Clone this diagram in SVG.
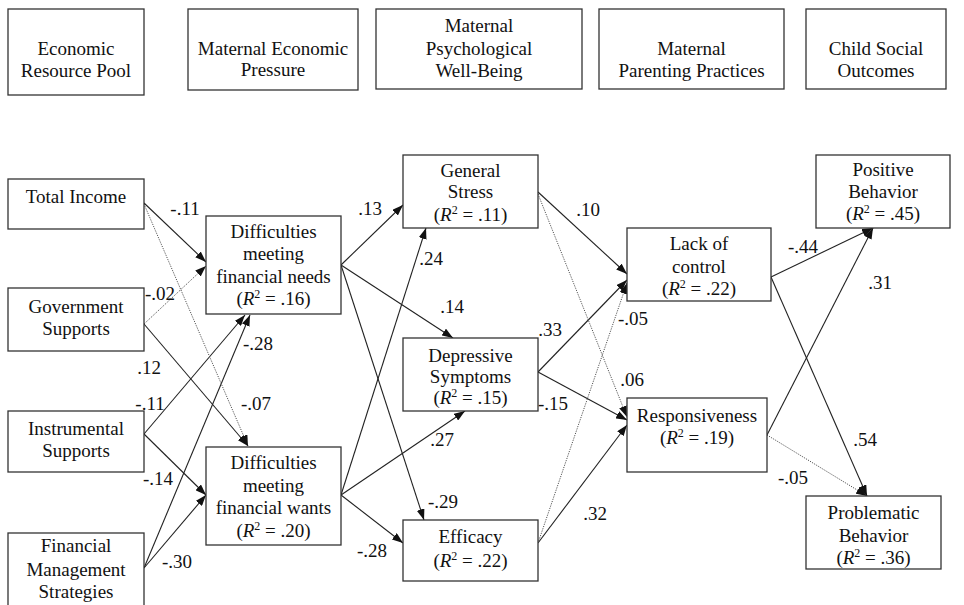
<svg xmlns="http://www.w3.org/2000/svg" width="964" height="605" viewBox="0 0 964 605" font-family="Liberation Serif">
<style>
.box{fill:#fff;stroke:#333;stroke-width:1.3}
text{font-family:'Liberation Serif','Times New Roman',serif;font-size:19px;fill:#111;text-anchor:middle}
.s{stroke:#222;stroke-width:1.1;fill:none;marker-end:url(#ah)}
.d{stroke:#555;stroke-width:1;stroke-dasharray:1.2,1.2;fill:none;marker-end:url(#ah)}
.i{font-style:italic}
.sup{font-size:12px}
</style>
<defs>
<marker id="ah" markerUnits="userSpaceOnUse" markerWidth="11" markerHeight="8" refX="11" refY="4" orient="auto">
<path d="M0,0 L11,4 L0,8 z" fill="#111"/>
</marker>
</defs>
<rect width="964" height="605" fill="#fff"/>

<g id="h1"><rect class="box" x="8" y="9" width="136" height="86"/><text x="76" y="54.5">Economic</text><text x="76" y="76.5">Resource Pool</text></g>
<g id="h2"><rect class="box" x="188" y="9" width="170" height="81"/><text x="273" y="54.5">Maternal Economic</text><text x="273" y="75.5">Pressure</text></g>
<g id="h3"><rect class="box" x="376" y="9" width="206" height="80"/><text x="479" y="32">Maternal</text><text x="479" y="54.5">Psychological</text><text x="479" y="77">Well-Being</text></g>
<g id="h4"><rect class="box" x="599" y="9" width="185" height="80"/><text x="691.5" y="54.5">Maternal</text><text x="691.5" y="77">Parenting Practices</text></g>
<g id="h5"><rect class="box" x="806" y="9" width="140" height="80"/><text x="876" y="54.5">Child Social</text><text x="876" y="77">Outcomes</text></g>

<g id="connectors">
<line class="s" x1="144" y1="203" x2="206" y2="262"/>
<line class="s" x1="144" y1="324" x2="248" y2="446"/>
<line class="s" x1="144" y1="434" x2="245" y2="315"/>
<line class="s" x1="144" y1="434" x2="206" y2="495"/>
<line class="s" x1="144" y1="568" x2="250" y2="315"/>
<line class="s" x1="144" y1="568" x2="206" y2="495"/>
<line class="s" x1="341" y1="265" x2="403" y2="205"/>
<line class="s" x1="341" y1="265" x2="453" y2="338"/>
<line class="s" x1="341" y1="265" x2="424" y2="520"/>
<line class="s" x1="341" y1="495" x2="426" y2="228"/>
<line class="s" x1="341" y1="495" x2="465" y2="411"/>
<line class="s" x1="341" y1="495" x2="403" y2="543"/>
<line class="s" x1="538" y1="192" x2="627" y2="274"/>
<line class="s" x1="538" y1="372" x2="627" y2="280"/>
<line class="s" x1="538" y1="372" x2="627" y2="420"/>
<line class="s" x1="538" y1="543" x2="627" y2="425"/>
<line class="s" x1="771" y1="277" x2="873" y2="228"/>
<line class="s" x1="771" y1="277" x2="867" y2="496"/>
<line class="s" x1="767" y1="435" x2="873" y2="228"/>
<line class="d" x1="144" y1="204" x2="248" y2="446"/>
<line class="d" x1="144" y1="324" x2="206" y2="266"/>
<line class="d" x1="538" y1="194" x2="627" y2="417"/>
<line class="d" x1="538" y1="543" x2="627" y2="283"/>
<line class="d" x1="767" y1="435" x2="867" y2="496"/>
</g>

<g id="labels">
<text x="185" y="215">-.11</text>
<text x="160" y="300">-.02</text>
<text x="149" y="374">.12</text>
<text x="150" y="410">-.11</text>
<text x="256" y="410">-.07</text>
<text x="258" y="350">-.28</text>
<text x="158" y="485">-.14</text>
<text x="177" y="568">-.30</text>
<text x="370" y="215">.13</text>
<text x="431" y="265">.24</text>
<text x="452" y="313">.14</text>
<text x="550" y="336">.33</text>
<text x="553" y="410">-.15</text>
<text x="442" y="446">.27</text>
<text x="443" y="508">-.29</text>
<text x="372" y="557">-.28</text>
<text x="588" y="216">.10</text>
<text x="633" y="325">-.05</text>
<text x="632" y="386">.06</text>
<text x="595" y="520">.32</text>
<text x="803" y="253">-.44</text>
<text x="880" y="289">.31</text>
<text x="865" y="446">.54</text>
<text x="793" y="484">-.05</text>
</g>

<g id="ti"><rect class="box" x="8" y="179" width="136" height="50"/><text x="76" y="203">Total Income</text></g>
<g id="gs"><rect class="box" x="8" y="288" width="136" height="63"/><text x="76" y="312.5">Government</text><text x="76" y="334.5">Supports</text></g>
<g id="is"><rect class="box" x="8" y="411" width="136" height="61"/><text x="76" y="435">Instrumental</text><text x="76" y="457">Supports</text></g>
<g id="fms"><rect class="box" x="8" y="533" width="136" height="75"/><text x="76" y="552">Financial</text><text x="76" y="575.5">Management</text><text x="76" y="598">Strategies</text></g>

<g id="dmfn"><rect class="box" x="206" y="216" width="135" height="98"/><text x="273.5" y="238">Difficulties</text><text x="273.5" y="260">meeting</text><text x="273.5" y="283">financial needs</text><text x="273.5" y="304.5">(<tspan class="i">R</tspan><tspan class="sup" dy="-7">2</tspan><tspan dy="7"> = .16)</tspan></text></g>
<g id="dmfw"><rect class="box" x="206" y="447" width="135" height="98"/><text x="273.5" y="469">Difficulties</text><text x="273.5" y="491.5">meeting</text><text x="273.5" y="514">financial wants</text><text x="273.5" y="536.5">(<tspan class="i">R</tspan><tspan class="sup" dy="-7">2</tspan><tspan dy="7"> = .20)</tspan></text></g>

<g id="gstress"><rect class="box" x="403" y="155" width="135" height="73"/><text x="470.5" y="176.5">General</text><text x="470.5" y="198">Stress</text><text x="470.5" y="220.5">(<tspan class="i">R</tspan><tspan class="sup" dy="-7">2</tspan><tspan dy="7"> = .11)</tspan></text></g>
<g id="dep"><rect class="box" x="403" y="338" width="135" height="73"/><text x="470.5" y="361.5">Depressive</text><text x="470.5" y="383">Symptoms</text><text x="470.5" y="403.5">(<tspan class="i">R</tspan><tspan class="sup" dy="-7">2</tspan><tspan dy="7"> = .15)</tspan></text></g>
<g id="eff"><rect class="box" x="403" y="520" width="135" height="61"/><text x="470.5" y="543">Efficacy</text><text x="470.5" y="566.5">(<tspan class="i">R</tspan><tspan class="sup" dy="-7">2</tspan><tspan dy="7"> = .22)</tspan></text></g>

<g id="loc"><rect class="box" x="627" y="228" width="144" height="73"/><text x="699" y="249.5">Lack of</text><text x="699" y="272.5">control</text><text x="699" y="294.5">(<tspan class="i">R</tspan><tspan class="sup" dy="-7">2</tspan><tspan dy="7"> = .22)</tspan></text></g>
<g id="resp"><rect class="box" x="627" y="398" width="140" height="74"/><text x="697" y="421.5">Responsiveness</text><text x="697" y="443.5">(<tspan class="i">R</tspan><tspan class="sup" dy="-7">2</tspan><tspan dy="7"> = .19)</tspan></text></g>

<g id="pos"><rect class="box" x="816" y="155" width="134" height="73"/><text x="883" y="176">Positive</text><text x="883" y="198">Behavior</text><text x="883" y="219.5">(<tspan class="i">R</tspan><tspan class="sup" dy="-7">2</tspan><tspan dy="7"> = .45)</tspan></text></g>
<g id="prob"><rect class="box" x="806" y="496" width="135" height="73"/><text x="873.5" y="519">Problematic</text><text x="873.5" y="541.5">Behavior</text><text x="873.5" y="563.5">(<tspan class="i">R</tspan><tspan class="sup" dy="-7">2</tspan><tspan dy="7"> = .36)</tspan></text></g>
</svg>
